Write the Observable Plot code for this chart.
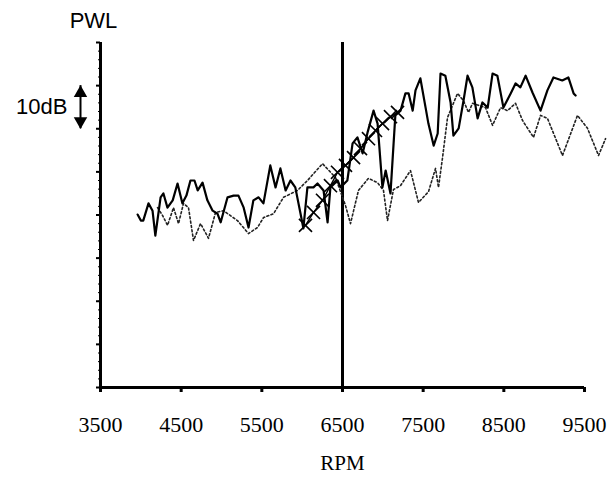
<!DOCTYPE html>
<html>
<head>
<meta charset="utf-8">
<script src="https://cdn.jsdelivr.net/npm/d3@7"></script>
<script src="https://cdn.jsdelivr.net/npm/@observablehq/plot@0.6"></script>
<style>
  html, body { margin: 0; padding: 0; background: #fff; }
  #chart { width: 610px; height: 477px; }
</style>
</head>
<body>
<div id="chart"></div>
<script>
// ---- data (RPM, level in dB) ----
const xTicks = [3500, 4500, 5500, 6500, 7500, 8500, 9500];
const yMajorTicks = [0, 10, 20, 30, 40, 50, 60, 70, 80];
const yMinorTicks = d3.range(0, 81, 2);
const markerRPM = [6500];
const scaleArrow = [[60, 70]]; // 10 dB span

const solidSeries = [
  [3960,40.1],[4000,38.7],[4030,38.7],[4095,42.7],[4145,41.0],[4180,35.2],[4245,44.1],[4280,45.0],
  [4330,41.7],[4395,43.4],[4455,47.3],[4515,42.7],[4565,44.5],[4615,48.0],[4665,48.0],[4705,45.7],
  [4765,47.5],[4825,43.4],[4890,41.0],[4950,40.3],[4990,38.3],[5075,44.1],[5150,44.5],[5210,44.5],
  [5275,41.7],[5335,37.1],[5395,43.4],[5460,44.1],[5520,42.7],[5605,51.5],[5670,46.4],[5730,50.8],
  [5795,45.7],[5855,48.0],[5915,46.4],[5980,40.3],[6015,36.9],[6065,46.4],[6140,46.4],[6190,47.3],
  [6265,45.7],[6315,38.3],[6350,46.4],[6440,48.0],[6475,46.4],[6560,48.0],[6625,56.6],[6685,58.0],
  [6750,54.3],[6810,59.1],[6885,64.2],[6935,61.2],[6995,46.4],[7035,50.3],[7095,45.0],[7155,63.1],
  [7220,64.2],[7280,68.2],[7320,68.2],[7370,64.2],[7405,68.9],[7465,71.7],[7530,64.9],[7565,61.2],
  [7630,56.1],[7680,58.9],[7715,72.8],[7775,72.3],[7840,66.1],[7875,58.4],[7940,60.1],[8000,66.5],
  [8050,72.3],[8110,69.6],[8175,62.4],[8235,66.1],[8300,64.9],[8360,72.8],[8420,72.3],[8495,64.9],
  [8585,68.2],[8645,70.5],[8705,69.6],[8770,72.3],[8855,68.4],[8955,64.2],[9040,68.9],[9115,71.9],
  [9225,71.2],[9300,71.9],[9365,68.2],[9390,67.7]
];

const dottedSeries = [
  [4207,41.7],[4269,39.9],[4331,37.6],[4405,41.7],[4467,38.0],[4529,42.7],[4591,41.7],[4653,34.1],
  [4740,38.0],[4839,34.6],[4926,40.6],[5025,41.0],[5198,38.7],[5335,35.7],[5446,37.1],[5521,39.4],
  [5645,40.3],[5769,44.1],[5942,45.7],[6066,48.0],[6252,51.9],[6413,48.7],[6537,42.2],[6599,38.0],
  [6698,45.7],[6822,48.5],[6934,47.5],[7008,45.7],[7058,38.7],[7132,45.9],[7219,46.8],[7343,50.3],
  [7442,42.9],[7566,45.4],[7653,50.8],[7690,46.4],[7740,53.3],[7802,62.6],[7926,68.2],[8000,66.5],
  [8062,63.8],[8112,65.9],[8273,64.9],[8360,60.8],[8459,64.9],[8546,64.2],[8645,65.9],[8732,61.9],
  [8868,58.0],[8955,63.1],[9041,62.4],[9227,53.8],[9413,63.1],[9537,60.1],[9674,53.8],[9761,57.7]
];

const crossSeries = [
  [6041,37.6],[6141,40.6],[6252,43.4],[6351,46.8],[6438,49.9],[6537,51.5],[6637,53.3],
  [6723,55.4],[6822,57.7],[6909,59.6],[6996,61.2],[7095,62.8],[7182,63.8]
];

const serif = "'Liberation Serif', 'Times New Roman', serif";
const sans = "'Liberation Sans', Arial, Helvetica, sans-serif";

const chart = Plot.plot({
  width: 610,
  height: 477,
  marginLeft: 100,
  marginRight: 26,
  marginTop: 42,
  marginBottom: 90,
  style: { background: "#fff", color: "#000", overflow: "visible" },
  x: { domain: [3500, 9500] },
  y: { domain: [0, 80] },
  marks: [
    // minor y ticks
    Plot.axisY({ ticks: yMinorTicks, tickSize: 2, tickFormat: () => "", label: null, strokeWidth: 1 }),
    // major y ticks
    Plot.axisY({ ticks: yMajorTicks, tickSize: 4, tickFormat: () => "", label: null, strokeWidth: 2 }),
    // x axis
    Plot.axisX({
      ticks: xTicks, tickSize: 5, tickPadding: 24, tickFormat: d => String(d),
      label: null, strokeWidth: 3, fontSize: 22, fontFamily: serif
    }),
    // axis lines
    Plot.ruleY([0], { strokeWidth: 3 }),
    Plot.ruleX([3500], { strokeWidth: 3 }),
    // vertical marker at 6500 rpm
    Plot.ruleX(markerRPM, { strokeWidth: 3 }),
    // dotted series
    Plot.line(dottedSeries, {
      x: d => d[0], y: d => d[1], stroke: "#222", strokeWidth: 1.6, strokeDasharray: "2,2.4"
    }),
    // solid series
    Plot.line(solidSeries, { x: d => d[0], y: d => d[1], stroke: "#000", strokeWidth: 2.2 }),
    // crosses series
    Plot.line(crossSeries, { x: d => d[0], y: d => d[1], stroke: "#000", strokeWidth: 1.4 }),
    Plot.dot(crossSeries, { x: d => d[0], y: d => d[1], symbol: "times", r: 6, stroke: "#000", strokeWidth: 1.6 }),
    // 10 dB scale arrow
    Plot.ruleX(scaleArrow, { x: () => 3500, y1: d => d[0], y2: d => d[1], dx: -20, strokeWidth: 2 }),
    Plot.dot(scaleArrow, { x: () => 3500, y: d => d[1], dx: -20, dy: 7.5, symbol: "triangle", r: 5, fill: "#000", stroke: null }),
    Plot.dot(scaleArrow, { x: () => 3500, y: d => d[0], dx: -20, dy: -7.5, symbol: "triangle", r: 5, rotate: 180, fill: "#000", stroke: null }),
    Plot.text(["10dB"], {
      x: () => 3500, y: () => 65, dx: -33, text: d => d, textAnchor: "end",
      fontSize: 22, fontFamily: sans, fill: "#000"
    }),
    // titles
    Plot.text(["PWL"], {
      frameAnchor: "top-left", dx: -7, dy: -15, text: d => d, textAnchor: "middle",
      lineAnchor: "bottom", fontSize: 22, fontFamily: sans, fill: "#000"
    }),
    Plot.text(["RPM"], {
      frameAnchor: "bottom", dy: 82, text: d => d, textAnchor: "middle",
      lineAnchor: "bottom", fontSize: 21, fontFamily: serif, fill: "#000"
    })
  ]
});

document.getElementById("chart").appendChild(chart);
</script>
</body>
</html>
